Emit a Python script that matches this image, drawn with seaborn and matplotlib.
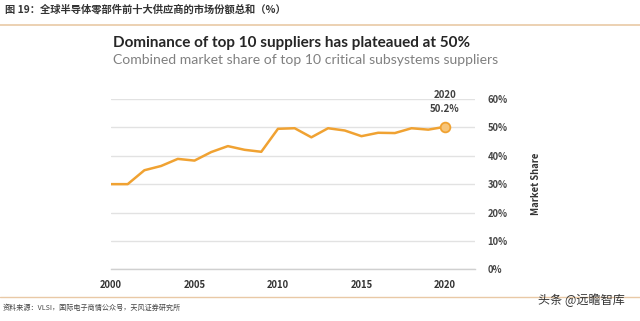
import matplotlib
matplotlib.use("Agg")
import matplotlib.pyplot as plt
import seaborn as sns
import pandas as pd
from matplotlib.ticker import PercentFormatter

years = list(range(2000, 2021))
share = [30.0, 30.0, 34.9, 36.4, 38.9, 38.3, 41.3, 43.4, 42.1, 41.4, 49.5, 49.7,
         46.5, 49.7, 48.9, 46.9, 48.1, 48.0, 49.7, 49.2, 50.2]
y_ticks = [0, 10, 20, 30, 40, 50, 60]
x_ticks = [2000, 2005, 2010, 2015, 2020]

header = "图 19：全球半导体零部件前十大供应商的市场份额总和（%）"
title = "Dominance of top 10 suppliers has plateaued at 50%"
subtitle = "Combined market share of top 10 critical subsystems suppliers"
source = "资料来源：VLSI，国际电子商情公众号，天风证券研究所"
watermark = "头条 @远瞻智库"

df = pd.DataFrame({"year": years, "share": share})

sns.set_theme(style="white")
plt.rcParams["font.family"] = ["Noto Sans CJK SC", "DejaVu Sans"]

W, H = 640, 321
fig = plt.figure(figsize=(6.4, 3.21), dpi=100)
fig.patch.set_facecolor("white")

ax = fig.add_axes([111 / W, (H - 269.3) / H, (475 - 111) / W, (269.3 - 99) / H])
line_color = "#F0A232"
sns.lineplot(data=df, x="year", y="share", ax=ax, color=line_color, linewidth=1.8)
ax.plot([years[-1]], [share[-1]], marker="o", markersize=7, markerfacecolor="#F7C57A",
        markeredgecolor=line_color, markeredgewidth=1.3, linestyle="none", zorder=5)

ax.set_xlim(2000, 2021.8)
ax.set_ylim(0, 60)
ax.set_xticks(x_ticks)
ax.set_yticks(y_ticks)
ax.yaxis.set_major_formatter(PercentFormatter(decimals=0))
ax.yaxis.tick_right()
ax.yaxis.set_label_position("right")
ax.grid(axis="y", color="#E2E2E2", linewidth=1.0)
ax.set_axisbelow(True)
for s in ["top", "left", "right"]:
    ax.spines[s].set_visible(False)
ax.spines["bottom"].set_color("#D0D0D0")
ax.spines["bottom"].set_linewidth(1.0)
ax.tick_params(axis="x", length=3, color="#D0D0D0", labelsize=6.8, labelcolor="#333333", pad=5, direction="out")
ax.tick_params(axis="y", length=0, labelsize=6.8, labelcolor="#444444", pad=9)
for lab in ax.get_xticklabels() + ax.get_yticklabels():
    lab.set_fontweight("bold")
ax.set_xlabel("")
ax.set_ylabel("Market Share", fontsize=6.8, color="#333333", fontweight="bold", labelpad=17)

ax.annotate("2020\n50.2%", xy=(2020, 50.2), xytext=(0, 9), textcoords="offset points",
            ha="center", va="bottom", fontsize=7, fontweight="bold", color="#404040",
            linespacing=1.6)

fig.text(5 / W, 1 - 9 / H, header, fontsize=7.4, fontweight="bold", color="#333333",
         va="center", ha="left")
fig.add_artist(plt.Line2D([0, 1], [1 - 24.5 / H, 1 - 24.5 / H], color="#E9C9A6", linewidth=1.2))
fig.text(113 / W, 1 - 43 / H, title, fontsize=11.0, fontweight="bold", color="#262626",
         va="center", ha="left", family=["Lato", "DejaVu Sans"])
fig.text(113 / W, 1 - 60 / H, subtitle, fontsize=10.1, color="#808080",
         va="center", ha="left", family=["Lato", "DejaVu Sans"])
fig.add_artist(plt.Line2D([0, 1], [1 - 297 / H, 1 - 297 / H], color="#E9C9A6", linewidth=1.0))
fig.text(3 / W, 1 - 308 / H, source, fontsize=5.1, color="#444444", va="center", ha="left")
fig.text(625 / W, 1 - 300 / H, watermark, fontsize=8.7, color="#333333", va="center", ha="right")

fig.savefig("out.png", dpi=100, facecolor="white")
